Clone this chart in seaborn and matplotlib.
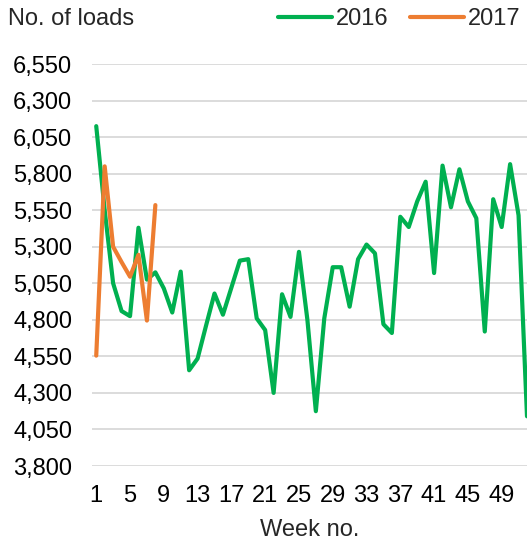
import seaborn as sns
import matplotlib.pyplot as plt
import pandas as pd

weeks_2016 = list(range(1, 53))
loads_2016 = [6125, 5550, 5050, 4860, 4825, 5430, 5075, 5125, 5015, 4850,
              5130, 4455, 4535, 4760, 4980, 4835, 5020, 5205, 5215, 4810,
              4730, 4300, 4975, 4820, 5265, 4800, 4175, 4810, 5160, 5160,
              4890, 5215, 5315, 5255, 4770, 4710, 5505, 5435, 5610, 5745,
              5120, 5855, 5570, 5830, 5610, 5495, 4720, 5625, 5435, 5865,
              5515, 4140]
weeks_2017 = list(range(1, 9))
loads_2017 = [4555, 5850, 5300, 5195, 5095, 5245, 4795, 5585]

y_ticks = list(range(3800, 6551, 250))
x_ticks = list(range(1, 50, 4))

df = pd.concat([
    pd.DataFrame({'Week': weeks_2016, 'Loads': loads_2016, 'Year': '2016'}),
    pd.DataFrame({'Week': weeks_2017, 'Loads': loads_2017, 'Year': '2017'}),
])

sns.set_style('white')
plt.rcParams['font.family'] = ['Liberation Sans', 'DejaVu Sans']
fs = 17

fig = plt.figure(figsize=(5.27, 5.43), dpi=100)
ax = fig.add_axes([0.1746, 0.1418, 0.8254, 0.7403])

sns.lineplot(data=df, x='Week', y='Loads', hue='Year', ax=ax,
             palette={'2016': '#00B050', '2017': '#ED7D31'},
             linewidth=3, solid_capstyle='round', solid_joinstyle='round')

ax.set_xlim(0.5, 52.0)
ax.set_ylim(3800, 6550)
ax.set_yticks(y_ticks)
ax.set_yticklabels([f'{v:,}' for v in y_ticks])
ax.set_xticks(x_ticks)
ax.set_xticklabels([str(v) for v in x_ticks])
ax.tick_params(axis='both', length=0, labelsize=fs, colors='black')
ax.tick_params(axis='y', pad=14.4)
ax.tick_params(axis='x', pad=14)
ax.grid(axis='y', color='#D9D9D9', linewidth=1.3)
ax.set_axisbelow(True)
for s in ax.spines.values():
    s.set_visible(False)

ax.set_xlabel('Week no.', fontsize=fs, labelpad=8)
ax.set_ylabel('')
fig.text(8 / 527, 1 - 19 / 543, 'No. of loads', fontsize=fs, va='center', ha='left')

ax.legend(loc='center right', bbox_to_anchor=(1 - 7 / 527, 1 - 19 / 543),
          bbox_transform=fig.transFigure, ncol=2, frameon=False,
          fontsize=fs, handlelength=2.3, handletextpad=0.15,
          columnspacing=0.9, borderpad=0, borderaxespad=0)

fig.savefig('out.png', dpi=100)
